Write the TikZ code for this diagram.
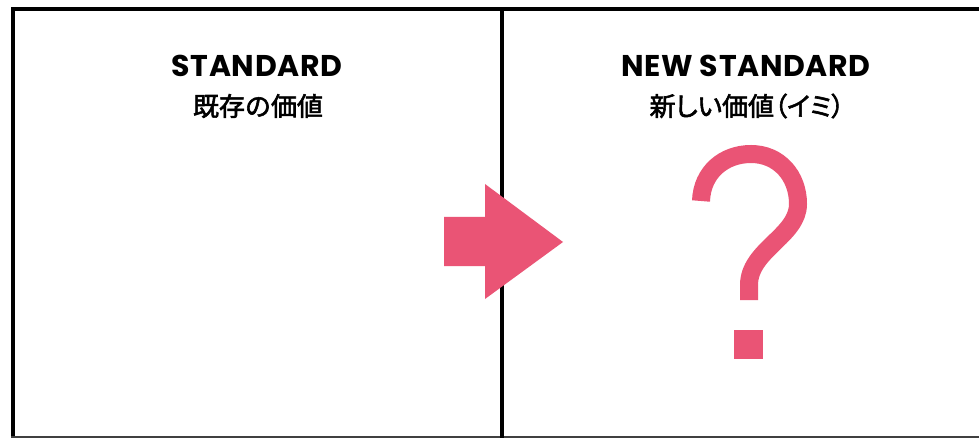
\documentclass[tikz,border=0pt]{standalone}
\usepackage{fontspec}
\newfontfamily\headfont{Poppins}[LetterSpace=2.2]
\newfontfamily\jpfont{Noto Sans CJK JP}[FakeBold=2.2]
\newfontfamily\jppfont{Noto Sans CJK JP}[FakeBold=2.2,RawFeature=+palt]
\definecolor{accent}{HTML}{EA5475}
\begin{document}
\begin{tikzpicture}[x=1pt,y=-1pt,
  frame/.style={line width=4pt,black},
  divider/.style={line width=3.5pt,black},
  head/.style={inner sep=0pt,anchor=base,font=\headfont\bfseries\fontsize{30}{36}\selectfont},
  sub/.style={inner sep=0pt,font=\jpfont\fontsize{26}{30}\selectfont},
  subp/.style={inner sep=0pt,font=\jppfont\fontsize{26}{30}\selectfont},
  qmark/.style={accent,line width=18pt,line cap=butt}]
\useasboundingbox (0,0) rectangle (979,438);
\fill[white] (0,0) rectangle (979,438);
% frame
\draw[frame] (13,438) -- (13,9) -- (979,9);
\draw[line width=2pt,black!75] (11,437) -- (979,437);
\draw[divider] (502,9) -- (502,438);
% arrow
\fill[accent] (444,217) -- (485,217) -- (485,184) -- (563,242) -- (485,299) -- (485,266) -- (444,266) -- cycle;
% texts
\node[head] (std) at (257,77) {STANDARD};
\node[head] (newstd) at (746,77) {NEW STANDARD};
\node[sub] (old) at (258,106) {既存の価値};
\node[subp] (new) at (747,106) {新しい価値（イミ）};
% question mark
\draw[qmark] (701,201) .. controls (702,172) and (724,154) .. (751,154)
  .. controls (779,154) and (798,176) .. (798,204)
  .. controls (798,236) and (749,250) .. (749,285) -- (749,300);
\fill[accent] (734,330) rectangle (763,359);
\end{tikzpicture}
\end{document}
